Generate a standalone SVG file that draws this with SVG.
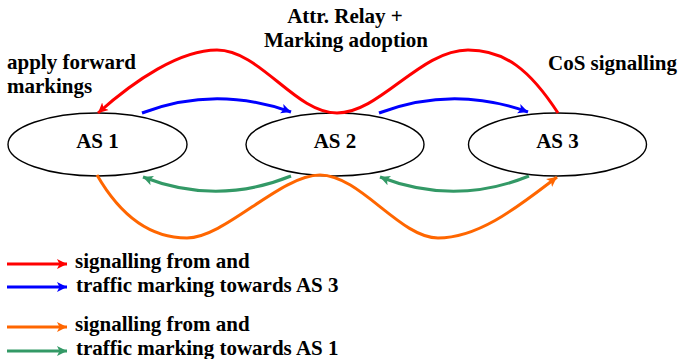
<svg xmlns="http://www.w3.org/2000/svg" width="681" height="359" viewBox="0 0 681 359">
  <style>
    .lbl { font-family: "Liberation Serif", "Times New Roman", serif; font-weight: bold; font-size: 21px; fill: #000; }
    .node ellipse { fill: #fff; stroke: #000; stroke-width: 1.4; }
    .flow { fill: none; stroke-width: 3; }
    .red { stroke: #ff0000; }
    .blue { stroke: #0000ff; }
    .orange { stroke: #ff6600; }
    .green { stroke: #339966; }
  </style>
  <defs>
    <marker id="ah-red" markerUnits="userSpaceOnUse" markerWidth="12" markerHeight="12" refX="10" refY="5" orient="auto" viewBox="0 0 12 10">
      <path d="M0,0 L10,5 L0,10 L2.5,5 Z" fill="#ff0000"/>
    </marker>
    <marker id="ah-blue" markerUnits="userSpaceOnUse" markerWidth="12" markerHeight="12" refX="10" refY="5" orient="auto" viewBox="0 0 12 10">
      <path d="M0,0 L10,5 L0,10 L2.5,5 Z" fill="#0000ff"/>
    </marker>
    <marker id="ah-orange" markerUnits="userSpaceOnUse" markerWidth="12" markerHeight="12" refX="10" refY="5" orient="auto" viewBox="0 0 12 10">
      <path d="M0,0 L10,5 L0,10 L2.5,5 Z" fill="#ff6600"/>
    </marker>
    <marker id="ah-green" markerUnits="userSpaceOnUse" markerWidth="12" markerHeight="12" refX="10" refY="5" orient="auto" viewBox="0 0 12 10">
      <path d="M0,0 L10,5 L0,10 L2.5,5 Z" fill="#339966"/>
    </marker>
  </defs>

  <rect width="681" height="359" fill="#fff"/>

  <!-- autonomous systems -->
  <g id="as1" class="node">
    <ellipse cx="97.5" cy="144.5" rx="89.5" ry="31.5"/>
    <text class="lbl" x="97.5" y="148" text-anchor="middle">AS 1</text>
  </g>
  <g id="as2" class="node">
    <ellipse cx="335" cy="144.5" rx="89" ry="31.5"/>
    <text class="lbl" x="335" y="148" text-anchor="middle">AS 2</text>
  </g>
  <g id="as3" class="node">
    <ellipse cx="557.5" cy="144.5" rx="89" ry="31.5"/>
    <text class="lbl" x="557.5" y="148" text-anchor="middle">AS 3</text>
  </g>

  <!-- connectors -->
  <g id="connectors">
    <path class="flow red" marker-end="url(#ah-red)" d="M558,113 C530,70 505,50 468,50 C420,50 380,113 337,113 C295,113 260,50 217,50 C180,50 135,80 98,113"/>
    <path class="flow blue" marker-end="url(#ah-blue)" d="M142,113 Q215,85 291,112"/>
    <path class="flow blue" marker-end="url(#ah-blue)" d="M379,113 Q453,85 528,112"/>
    <path class="flow green" marker-end="url(#ah-green)" d="M291,176 Q217,206 143,177"/>
    <path class="flow green" marker-end="url(#ah-green)" d="M529,176 Q455,206 380,177"/>
    <path class="flow orange" marker-end="url(#ah-orange)" d="M97,175 C120,215 150,238 187,238 C225,238 280,175 320,175 C360,175 400,238 438,238 C480,238 520,205 557,177"/>
  </g>

  <!-- annotations -->
  <g id="annotations">
    <text class="lbl" x="345" y="23" text-anchor="middle">Attr. Relay +</text>
    <text class="lbl" x="346" y="47" text-anchor="middle">Marking adoption</text>
    <text class="lbl" x="7" y="69">apply forward</text>
    <text class="lbl" x="7" y="93">markings</text>
    <text class="lbl" x="548" y="70">CoS signalling</text>
  </g>

  <!-- legend -->
  <g id="legend">
    <path class="flow red" marker-end="url(#ah-red)" d="M7,264 H67"/>
    <path class="flow blue" marker-end="url(#ah-blue)" d="M7,287 H67"/>
    <path class="flow orange" marker-end="url(#ah-orange)" d="M7,327 H67"/>
    <path class="flow green" marker-end="url(#ah-green)" d="M7,351 H67"/>
    <text class="lbl" x="75" y="268">signalling from and</text>
    <text class="lbl" x="76" y="292">traffic marking towards AS 3</text>
    <text class="lbl" x="75" y="331">signalling from and</text>
    <text class="lbl" x="76" y="355">traffic marking towards AS 1</text>
  </g>
</svg>
